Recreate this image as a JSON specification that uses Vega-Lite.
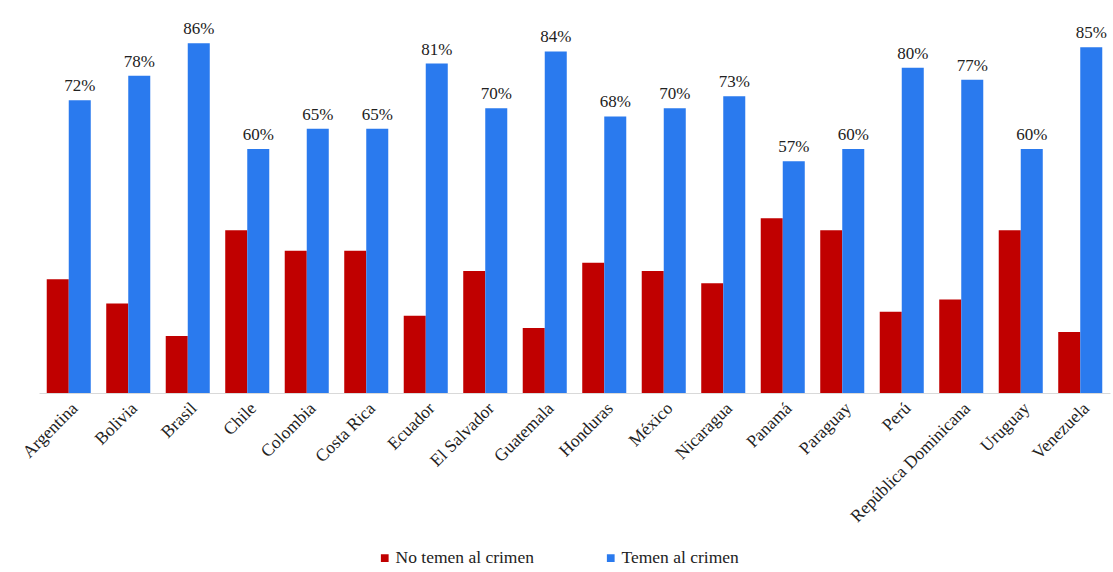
{
  "$schema": "https://vega.github.io/schema/vega-lite/v6.json",
  "width": 1071,
  "height": 366,
  "autosize": "none",
  "padding": {"left": 39, "top": 27, "right": 3, "bottom": 179},
  "background": "white",
  "config": {
    "view": {"stroke": null},
    "font": "'Liberation Serif', 'Times New Roman', serif",
    "legend": {"labelFont": "'Liberation Serif', 'Times New Roman', serif"},
    "axis": {"labelFont": "'Liberation Serif', 'Times New Roman', serif"},
    "text": {"font": "'Liberation Serif', 'Times New Roman', serif"}
  },
  "data": {
    "values": [
      {"pais": "Argentina", "serie": "No temen al crimen", "valor": 0.28},
      {"pais": "Argentina", "serie": "Temen al crimen", "valor": 0.72},
      {"pais": "Bolivia", "serie": "No temen al crimen", "valor": 0.22},
      {"pais": "Bolivia", "serie": "Temen al crimen", "valor": 0.78},
      {"pais": "Brasil", "serie": "No temen al crimen", "valor": 0.14},
      {"pais": "Brasil", "serie": "Temen al crimen", "valor": 0.86},
      {"pais": "Chile", "serie": "No temen al crimen", "valor": 0.40},
      {"pais": "Chile", "serie": "Temen al crimen", "valor": 0.60},
      {"pais": "Colombia", "serie": "No temen al crimen", "valor": 0.35},
      {"pais": "Colombia", "serie": "Temen al crimen", "valor": 0.65},
      {"pais": "Costa Rica", "serie": "No temen al crimen", "valor": 0.35},
      {"pais": "Costa Rica", "serie": "Temen al crimen", "valor": 0.65},
      {"pais": "Ecuador", "serie": "No temen al crimen", "valor": 0.19},
      {"pais": "Ecuador", "serie": "Temen al crimen", "valor": 0.81},
      {"pais": "El Salvador", "serie": "No temen al crimen", "valor": 0.30},
      {"pais": "El Salvador", "serie": "Temen al crimen", "valor": 0.70},
      {"pais": "Guatemala", "serie": "No temen al crimen", "valor": 0.16},
      {"pais": "Guatemala", "serie": "Temen al crimen", "valor": 0.84},
      {"pais": "Honduras", "serie": "No temen al crimen", "valor": 0.32},
      {"pais": "Honduras", "serie": "Temen al crimen", "valor": 0.68},
      {"pais": "México", "serie": "No temen al crimen", "valor": 0.30},
      {"pais": "México", "serie": "Temen al crimen", "valor": 0.70},
      {"pais": "Nicaragua", "serie": "No temen al crimen", "valor": 0.27},
      {"pais": "Nicaragua", "serie": "Temen al crimen", "valor": 0.73},
      {"pais": "Panamá", "serie": "No temen al crimen", "valor": 0.43},
      {"pais": "Panamá", "serie": "Temen al crimen", "valor": 0.57},
      {"pais": "Paraguay", "serie": "No temen al crimen", "valor": 0.40},
      {"pais": "Paraguay", "serie": "Temen al crimen", "valor": 0.60},
      {"pais": "Perú", "serie": "No temen al crimen", "valor": 0.20},
      {"pais": "Perú", "serie": "Temen al crimen", "valor": 0.80},
      {"pais": "República Dominicana", "serie": "No temen al crimen", "valor": 0.23},
      {"pais": "República Dominicana", "serie": "Temen al crimen", "valor": 0.77},
      {"pais": "Uruguay", "serie": "No temen al crimen", "valor": 0.40},
      {"pais": "Uruguay", "serie": "Temen al crimen", "valor": 0.60},
      {"pais": "Venezuela", "serie": "No temen al crimen", "valor": 0.15},
      {"pais": "Venezuela", "serie": "Temen al crimen", "valor": 0.85}
    ]
  },
  "encoding": {
    "x": {
      "field": "pais",
      "type": "nominal",
      "sort": null,
      "scale": {"paddingInner": 0.26, "paddingOuter": 0.13},
      "axis": {
        "title": null,
        "labelAngle": -45,
        "labelFontSize": 17.5,
        "labelColor": "#222222",
        "ticks": false,
        "labelPadding": 6,
        "domainColor": "#d9d9d9",
        "domainWidth": 1
      }
    },
    "xOffset": {
      "field": "serie",
      "type": "nominal",
      "sort": ["No temen al crimen", "Temen al crimen"],
      "scale": {"paddingInner": 0, "paddingOuter": 0}
    },
    "y": {
      "field": "valor",
      "type": "quantitative",
      "scale": {"domain": [0, 0.9], "nice": false},
      "axis": null
    }
  },
  "layer": [
    {
      "mark": {"type": "bar"},
      "encoding": {
        "color": {
          "field": "serie",
          "type": "nominal",
          "scale": {
            "domain": ["No temen al crimen", "Temen al crimen"],
            "range": ["#C00000", "#2A7AEE"]
          },
          "legend": {
            "title": null,
            "orient": "none",
            "direction": "horizontal",
            "legendX": 337,
            "legendY": 522,
            "symbolType": "square",
            "symbolSize": 60,
            "symbolStrokeWidth": 0,
            "labelFontSize": 17.5,
            "labelColor": "#222222",
            "labelOffset": 2,
            "columnPadding": 68
          }
        }
      }
    },
    {
      "transform": [{"filter": "datum.serie === 'Temen al crimen'"}],
      "mark": {
        "type": "text",
        "baseline": "bottom",
        "dy": -5,
        "fontSize": 17,
        "color": "#222222"
      },
      "encoding": {
        "text": {"field": "valor", "type": "quantitative", "format": ".0%"}
      }
    }
  ]
}
